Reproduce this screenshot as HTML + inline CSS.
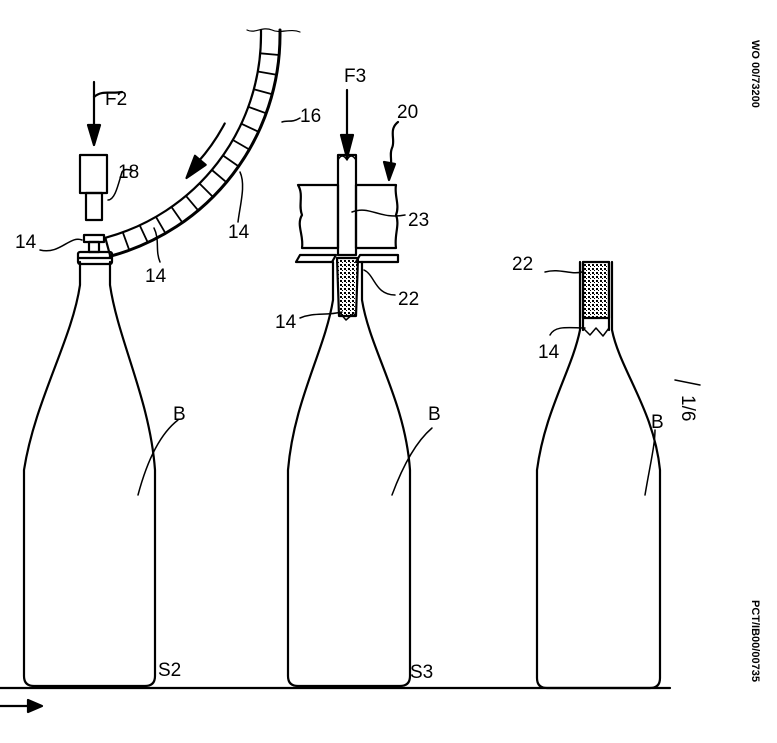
<!DOCTYPE html>
<html><head><meta charset="utf-8"><style>
html,body{margin:0;padding:0;background:#fff;}
svg{display:block;}
text{font-family:"Liberation Sans",sans-serif;fill:#000;}
</style></head><body>
<svg width="777" height="743" viewBox="0 0 777 743" xmlns="http://www.w3.org/2000/svg">
<defs>
<pattern id="dots" width="4" height="4" patternUnits="userSpaceOnUse">
<rect width="4" height="4" fill="#fff"/><rect x="0" y="0" width="2" height="2" fill="#000"/><rect x="2" y="2" width="1" height="1" fill="#000"/>
</pattern>
</defs>
<g fill="none" stroke="#000" stroke-width="2.2" stroke-linejoin="round" stroke-linecap="round">
<line x1="0" y1="688" x2="670" y2="688"/>
<!-- bottle 1 -->
<path d="M80,262 L80,285 C72,340 35,400 24,470 L24,676 Q24,686 34,686 L145,686 Q155,686 155,676 L155,470 C150,400 118,340 110,285 L110,262"/>
<rect x="78" y="252" width="34" height="12" rx="2"/>
<line x1="79" y1="258" x2="111" y2="258"/>
<rect x="84" y="235" width="20" height="7"/>
<rect x="89" y="242" width="10" height="10"/>
<rect x="80" y="155" width="27" height="38"/>
<rect x="86" y="193" width="16" height="27"/>
<line x1="94" y1="82" x2="94" y2="140"/>
<path d="M88,125 L94,145 L100,125 Z" fill="#000"/>
<path d="M94,97 C102,90 110,94 122,92"/>
<!-- arc conveyor 16 -->
<path d="M261,30 L261,35 A210,210 0 0 1 105.3,237.8"/>
<path d="M280,30 L280,35 A229,229 0 0 1 110.3,256.2" stroke-width="3"/>
<line x1="105.3" y1="237.8" x2="110.3" y2="256.2"/>
<g stroke-width="1.8">
<line x1="260.2" y1="53.3" x2="279.1" y2="55"/>
<line x1="257.8" y1="71.5" x2="276.5" y2="74.8"/>
<line x1="253.8" y1="89.3" x2="272.2" y2="94.3"/>
<line x1="248.3" y1="106.8" x2="266.2" y2="113.3"/>
<line x1="241.3" y1="123.7" x2="258.5" y2="131.8"/>
<line x1="232.9" y1="140" x2="249.3" y2="149.5"/>
<line x1="223" y1="155.5" x2="238.6" y2="166.4"/>
<line x1="211.9" y1="170" x2="226.4" y2="182.2"/>
<line x1="199.5" y1="183.5" x2="212.9" y2="196.9"/>
<line x1="186" y1="195.9" x2="198.2" y2="210.4"/>
<line x1="171.5" y1="207" x2="182.4" y2="222.6"/>
<line x1="156" y1="216.9" x2="165.5" y2="233.3"/>
<line x1="139.7" y1="225.3" x2="147.8" y2="242.5"/>
<line x1="122.8" y1="232.3" x2="129.3" y2="250.2"/>
</g>
<path d="M247,30 C255,34 262,26 272,30 C280,34 290,28 300,32" stroke-width="1.2"/>
<!-- curved arrow -->
<path d="M224.7,123.5 A195,195 0 0 1 198,162"/>
<path d="M195,155.8 L205.7,164.8 L186.5,178 Z" fill="#000"/>
<!-- leaders -->
<path d="M282,122 C288,120 292,123 300,118" stroke-width="1.5"/>
<path d="M240,172 C246,185 240,205 238,222" stroke-width="1.5"/>
<path d="M154,228 C160,240 155,250 160,262" stroke-width="1.5"/>
<path d="M108,200 C115,200 118,185 122,172 C125,168 128,170 132,170" stroke-width="1.5"/>
<path d="M82,240 C70,235 60,255 40,250" stroke-width="1.5"/>
<!-- bottle 2 -->
<path d="M333,262 L333,300 C325,350 294,400 288,470 L288,676 Q288,686 298,686 L400,686 Q410,686 410,676 L410,470 C405,400 370,350 362,300 L362,262"/>
<path d="M337,258 L358,258 L356,316 L339,316 Z" fill="url(#dots)"/>
<path d="M339,312 L346,320 L354,313" stroke-width="1.5"/>
<path d="M298,185 L338,185 L338,248 L302,248 C304,235 296,225 302,215 C298,205 304,195 298,185 Z"/>
<path d="M356,185 L396,185 C394,195 400,205 396,215 C400,225 394,235 396,248 L356,248 Z"/>
<rect x="338" y="155" width="18" height="100"/>
<path d="M338,160 Q342,152 347,160 Q351,152 356,160" stroke-width="1.5"/>
<path d="M296,262 L300,255 L336,255 L332,262 Z"/>
<path d="M360,255 L398,255 L398,262 L356,262 Z"/>
<line x1="347" y1="90" x2="347" y2="150"/>
<path d="M341,135 L347,158 L353,135 Z" fill="#000"/>
<path d="M398,122 C388,130 396,140 392,148 C389,155 393,160 390,175"/>
<path d="M384,162 L389,180 L395,164 Z" fill="#000"/>
<path d="M352,212 C370,205 380,220 405,215" stroke-width="1.5"/>
<path d="M364,270 C375,275 375,295 395,295" stroke-width="1.5"/>
<path d="M300,318 C315,312 325,316 342,312" stroke-width="1.5"/>
<!-- bottle 3 -->
<path d="M580,262 L580,330 C572,370 545,410 537,470 L537,678 Q537,688 547,688 L650,688 Q660,688 660,678 L660,470 C654,410 620,370 612,330 L612,262"/>
<path d="M583,262 L609,262 L609,318 L583,318 Z" fill="url(#dots)"/>
<path d="M583,328 L590,335 L596,328 L603,336 L609,328" stroke-width="1.5"/>
<line x1="583" y1="262" x2="583" y2="330"/>
<line x1="609" y1="262" x2="609" y2="330"/>
<path d="M545,272 C560,268 570,275 582,272" stroke-width="1.5"/>
<path d="M550,335 C555,325 570,328 585,328" stroke-width="1.5"/>
<path d="M178,420 C165,430 150,450 138,495" stroke-width="1.5"/>
<path d="M432,428 C418,440 405,460 392,495" stroke-width="1.5"/>
<path d="M655,430 C655,445 650,465 645,495" stroke-width="1.5"/>
<line x1="0" y1="706" x2="38" y2="706"/>
<path d="M28,700 L42,706 L28,712 Z" fill="#000"/>
<line x1="675" y1="380" x2="700" y2="385" stroke-width="1.5"/>
</g>
<g font-size="19">
<text x="105" y="105">F2</text>
<text x="118" y="178">18</text>
<text x="300" y="122">16</text>
<text x="228" y="238">14</text>
<text x="145" y="282">14</text>
<text x="15" y="248">14</text>
<text x="344" y="82">F3</text>
<text x="397" y="118">20</text>
<text x="408" y="226">23</text>
<text x="398" y="305">22</text>
<text x="275" y="328">14</text>
<text x="512" y="270">22</text>
<text x="538" y="358">14</text>
<text x="173" y="420">B</text>
<text x="428" y="420">B</text>
<text x="651" y="428">B</text>
<text x="158" y="676">S2</text>
<text x="410" y="678">S3</text>
<text x="0" y="0" transform="translate(682,395) rotate(90)">1/6</text>
</g>
<g font-size="11" font-weight="bold">
<text transform="translate(752,40) rotate(90)">WO 00/73200</text>
<text transform="translate(752,600) rotate(90)">PCT/IB00/00735</text>
</g>
</svg>
</body></html>
